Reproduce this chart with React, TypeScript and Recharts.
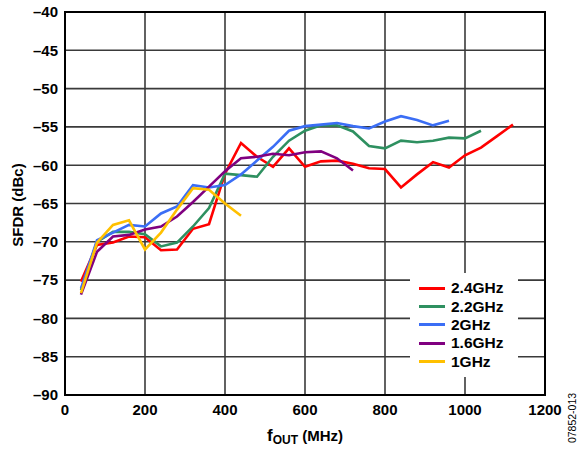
import React from "react";
import {
  LineChart,
  Line,
  XAxis,
  YAxis,
  CartesianGrid,
  ReferenceArea,
} from "recharts";

const freqMHz = [
  40, 80, 120, 160, 200, 240, 280, 320, 360, 400, 440, 480, 520, 560, 600, 640,
  680, 720, 760, 800, 840, 880, 920, 960, 1000, 1040, 1080, 1120,
];

const sfdr24 = [
  -75.2, -70.4, -70.1, -69.3, -69.4, -71.1, -71.0, -68.3, -67.7, -61.1, -57.1,
  -58.9, -60.2, -57.8, -60.2, -59.5, -59.4, -59.8, -60.4, -60.5, -62.9, -61.2,
  -59.6, -60.3, -58.7, -57.7, -56.2, -54.7,
];
const sfdr22 = [
  -76.3, -70.0, -68.7, -68.7, -69.0, -70.6, -70.1, -68.0, -65.6, -61.1, -61.3,
  -61.5, -58.9, -56.8, -55.5, -54.8, -54.8, -55.6, -57.5, -57.8, -56.8, -57.0,
  -56.8, -56.4, -56.5, -55.5,
];
const sfdr20 = [
  -76.1, -69.8, -68.8, -67.8, -68.0, -66.3, -65.4, -62.6, -62.9, -62.6, -61.2,
  -59.4, -57.6, -55.5, -54.9, -54.7, -54.5, -54.9, -55.2, -54.3, -53.6, -54.1,
  -54.8, -54.2,
];
const sfdr16 = [
  -76.9, -71.3, -69.3, -69.1, -68.4, -68.0, -66.7, -64.8, -62.8, -60.8, -59.1,
  -58.9, -58.5, -58.7, -58.3, -58.2, -59.1, -60.7,
];
const sfdr10 = [
  -76.7, -70.1, -67.8, -67.2, -71.0, -68.8, -65.8, -63.0, -63.2, -65.0, -66.6,
];

const xTicks = [0, 200, 400, 600, 800, 1000, 1200];
const yTicks = [-90, -85, -80, -75, -70, -65, -60, -55, -50, -45, -40];

const series = [
  { key: "s24", name: "2.4GHz", color: "#FF0000", values: sfdr24 },
  { key: "s22", name: "2.2GHz", color: "#2E9060", values: sfdr22 },
  { key: "s20", name: "2GHz", color: "#3B6EF5", values: sfdr20 },
  { key: "s16", name: "1.6GHz", color: "#800080", values: sfdr16 },
  { key: "s10", name: "1GHz", color: "#FFC000", values: sfdr10 },
];

const data = freqMHz.map((f, i) => {
  const row: Record<string, number | undefined> = { f };
  series.forEach((s) => {
    row[s.key] = i < s.values.length ? s.values[i] : undefined;
  });
  return row;
});

const FONT = "'Liberation Sans', Arial, sans-serif";

const fmtY = (v: number) => (v < 0 ? "\u2013" + Math.abs(v) : String(v));

const LegendBox = () => (
  <div
    style={{
      position: "absolute",
      left: 410,
      top: 273,
      background: "#fff",
      width: 108,
      height: 104,
      boxSizing: "border-box",
      paddingTop: 6,
      paddingLeft: 9,
      fontFamily: FONT,
      fontWeight: "bold",
      fontSize: 15.5,
      color: "#000",
    }}
  >
    {series.map((s) => (
      <div
        key={s.key}
        style={{ display: "flex", alignItems: "center", height: 18.4 }}
      >
        <div
          style={{
            width: 26,
            height: 3,
            background: s.color,
            marginRight: 6,
          }}
        />
        <span>{s.name}</span>
      </div>
    ))}
  </div>
);

export default function App() {
  return (
    <div style={{ position: "absolute", left: 0, top: 0, width: 581, height: 452, background: "#fff" }}>
      <LineChart
        width={581}
        height={452}
        data={data}
        margin={{ top: 12, right: 36, left: 5, bottom: 27 }}
      >
        <CartesianGrid
          stroke="#3a3a3a"
          strokeWidth={1.6}
          horizontalValues={yTicks}
          verticalValues={xTicks}
        />
        <XAxis
          dataKey="f"
          type="number"
          domain={[0, 1200]}
          ticks={xTicks}
          height={30}
          tickSize={0}
          tickMargin={9}
          axisLine={{ stroke: "#000", strokeWidth: 2 }}
          tick={{ fill: "#000", fontFamily: FONT, fontWeight: "bold", fontSize: 15 }}
        />
        <YAxis
          type="number"
          domain={[-90, -40]}
          ticks={yTicks}
          width={60}
          tickSize={0}
          tickMargin={7}
          tickFormatter={fmtY}
          interval={0}
          axisLine={{ stroke: "#000", strokeWidth: 2 }}
          tick={{ fill: "#000", fontFamily: FONT, fontWeight: "bold", fontSize: 15 }}
        />
        <ReferenceArea
          x1={0}
          x2={1200}
          y1={-90}
          y2={-40}
          fill="none"
          stroke="#000"
          strokeWidth={2}
          ifOverflow="visible"
        />
        {series.map((s) => (
          <Line
            key={s.key}
            dataKey={s.key}
            name={s.name}
            stroke={s.color}
            strokeWidth={2.6}
            dot={false}
            activeDot={false}
            isAnimationActive={false}
            connectNulls={false}
          />
        ))}
        <text
          x={305}
          y={441}
          textAnchor="middle"
          fontFamily={FONT}
          fontWeight="bold"
          fill="#000"
        >
          <tspan fontSize={17}>f</tspan>
          <tspan fontSize={12} dy={3}>
            OUT
          </tspan>
          <tspan fontSize={15} dy={-3}>
            {" (MHz)"}
          </tspan>
        </text>
        <text
          x={23}
          y={205}
          transform="rotate(-90 23 205)"
          textAnchor="middle"
          fontFamily={FONT}
          fontWeight="bold"
          fontSize={15}
          fill="#000"
        >
          SFDR (dBc)
        </text>
        <text
          x={576}
          y={418}
          transform="rotate(-90 576 418)"
          textAnchor="middle"
          fontFamily={FONT}
          fontSize={10.5}
          fill="#000"
        >
          07852-013
        </text>
      </LineChart>
      <LegendBox />
    </div>
  );
}
